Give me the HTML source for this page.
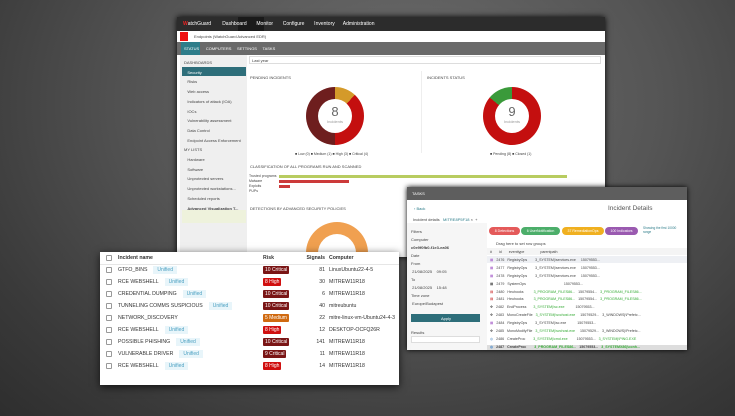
<!DOCTYPE html>
<html><head><meta charset="utf-8"><style>
*{margin:0;padding:0;box-sizing:border-box}
body{width:735px;height:416px;overflow:hidden;position:relative;font-family:"Liberation Sans",sans-serif;background:radial-gradient(ellipse at 55% 25%,#6e6e6e,#555 45%,#3a3a3a 80%,#2e2e2e);}
.a{position:absolute}
.t{font-size:4px;color:#444;white-space:nowrap}
.tab td{font-size:5.2px;color:#333;white-space:nowrap;height:12px}
.badge{color:#fff;font-size:5px;padding:1px 2px;border-radius:1px}
.u{font-size:5px;color:#4a9fc0;background:#e8f5fa;padding:1px 4px;margin-left:6px}
.cb{display:inline-block;width:6px;height:6px;border:1px solid #999;border-radius:1px;vertical-align:middle}
.pill{position:absolute;top:227px;height:8px;border-radius:4px;color:#fff;font-size:3.5px;text-align:center;line-height:8px;white-space:nowrap}
</style></head><body>
<!-- main window -->
<div class="a" style="left:177px;top:17px;width:428px;height:240px;background:#fff;box-shadow:0 0 6px #000"></div>
<div class="a" style="left:177px;top:17px;width:428px;height:14px;background:#2c2c2c"></div>
<div class="a" style="left:238px;top:17px;width:26px;height:14px;background:#1a1a1a"></div>
<div class="a t" style="left:183px;top:21px;color:#fff;font-size:5px"><b style="color:#e22">W</b>atchGuard &nbsp;&nbsp;&nbsp;&nbsp;&nbsp;&nbsp; Dashboard &nbsp;&nbsp;&nbsp;&nbsp;&nbsp; Monitor &nbsp;&nbsp;&nbsp;&nbsp;&nbsp; Configure &nbsp;&nbsp;&nbsp;&nbsp;&nbsp; Inventory &nbsp;&nbsp;&nbsp;&nbsp; Administration</div>
<div class="a" style="left:180px;top:32px;width:8px;height:9px;background:#e11"></div>
<div class="a t" style="left:194px;top:34px">Endpoints (WatchGuard Advanced EDR)</div>
<div class="a" style="left:177px;top:42px;width:428px;height:13px;background:#6a6a6a"></div>
<div class="a" style="left:181px;top:42px;width:19px;height:13px;background:#2e7d8a"></div>
<div class="a t" style="left:184px;top:46px;color:#fff">STATUS &nbsp;&nbsp;&nbsp;&nbsp; COMPUTERS &nbsp;&nbsp;&nbsp; SETTINGS &nbsp;&nbsp;&nbsp; TASKS</div>
<div class="a" style="left:180px;top:55px;width:67px;height:200px;background:#efefef"></div>
<div class="a" style="left:182px;top:67px;width:64px;height:9px;background:#2e6e7a"></div>
<div class="a" style="left:182px;top:210px;width:64px;height:13px;background:#eef2dc"></div>
<div class="a t" style="left:184px;top:58px;line-height:9.7px">DASHBOARDS<br><span style="color:#fff">&nbsp;&nbsp;&nbsp;Security</span><br>&nbsp;&nbsp;&nbsp;Risks<br>&nbsp;&nbsp;&nbsp;Web access<br>&nbsp;&nbsp;&nbsp;Indicators of attack (IOA)<br>&nbsp;&nbsp;&nbsp;IOCs<br>&nbsp;&nbsp;&nbsp;Vulnerability assessment<br>&nbsp;&nbsp;&nbsp;Data Control<br>&nbsp;&nbsp;&nbsp;Endpoint Access Enforcement<br>MY LISTS<br>&nbsp;&nbsp;&nbsp;Hardware<br>&nbsp;&nbsp;&nbsp;Software<br>&nbsp;&nbsp;&nbsp;Unprotected servers<br>&nbsp;&nbsp;&nbsp;Unprotected workstations...<br>&nbsp;&nbsp;&nbsp;Scheduled reports<br><b>&nbsp;&nbsp;&nbsp;Advanced Visualization T...</b></div>
<div class="a" style="left:249px;top:56px;width:352px;height:8px;border:1px solid #ddd"></div>
<div class="a t" style="left:252px;top:58px">Last year</div>
<div class="a" style="left:248px;top:71px;width:174px;height:82px;border-right:1px solid #eee"></div>
<div class="a t" style="left:250px;top:75px">PENDING INCIDENTS</div>
<div class="a t" style="left:427px;top:75px">INCIDENTS STATUS</div>
<div class="a" style="left:306px;top:87px;width:58px;height:58px;border-radius:50%;background:conic-gradient(#d49a2a 0 12%,#c40f0f 12% 50%,#6e1e1e 50% 100%)"></div>
<div class="a" style="left:318px;top:99px;width:34px;height:34px;border-radius:50%;background:#fff;text-align:center;font-size:13px;color:#666;padding-top:5px">8<div style="font-size:4px;color:#999">Incidents</div></div>
<div class="a" style="left:483px;top:87px;width:58px;height:58px;border-radius:50%;background:conic-gradient(#c40f0f 0 86%,#3a9a3a 86% 100%)"></div>
<div class="a" style="left:495px;top:99px;width:34px;height:34px;border-radius:50%;background:#fff;text-align:center;font-size:13px;color:#666;padding-top:5px">9<div style="font-size:4px;color:#999">Incidents</div></div>
<div class="a t" style="left:295px;top:152px;font-size:3.5px">■ Low (0) ■ Medium (1) ■ High (3) ■ Critical (4)</div>
<div class="a t" style="left:490px;top:152px;font-size:3.5px">■ Pending (8) ■ Closed (1)</div>
<div class="a t" style="left:250px;top:164px">CLASSIFICATION OF ALL PROGRAMS RUN AND SCANNED</div>
<div class="a" style="left:279px;top:175px;width:288px;height:3px;background:#b8cc60"></div>
<div class="a" style="left:279px;top:180px;width:70px;height:3px;background:#cc3a3a"></div>
<div class="a" style="left:279px;top:185px;width:11px;height:3px;background:#cc3a3a"></div>
<div class="a t" style="left:249px;top:174px;font-size:3.5px;line-height:5px">Trusted programs<br>Malware<br>Exploits<br>PUPs</div>
<div class="a t" style="left:250px;top:206px">DETECTIONS BY ADVANCED SECURITY POLICIES</div>
<div class="a" style="left:306px;top:222px;width:62px;height:62px;border-radius:50%;background:#f0a050"></div>
<div class="a" style="left:318px;top:234px;width:38px;height:38px;border-radius:50%;background:#fff"></div>
<!-- tasks window -->
<div class="a" style="left:407px;top:187px;width:280px;height:163px;background:#fff;box-shadow:0 0 5px #000"></div>
<div class="a" style="left:407px;top:187px;width:280px;height:13px;background:#5e5e5e"></div>
<div class="a t" style="left:412px;top:191px;color:#fff">TASKS</div>
<div class="a t" style="left:414px;top:206px;color:#2e7d8a">‹ Back</div>
<div class="a t" style="left:608px;top:205px;font-size:6.5px;color:#555">Incident Details</div>
<div class="a t" style="left:413px;top:217px">Incident details &nbsp; <span style="color:#2e7d8a">MITRE8P5F18</span> × &nbsp;+</div>
<div class="a" style="left:407px;top:223px;width:80px;height:127px;background:#f6f6f6"></div>
<div class="a t" style="left:411px;top:228px;line-height:8px">Filters<br>Computer<br><b>c0e9f0fb0-f1e3-ea06</b><br>Date<br>From<br>&nbsp;21/08/2025 &nbsp;&nbsp; 09:05<br>To<br>&nbsp;21/08/2025 &nbsp;&nbsp; 15:48<br>Time zone<br>&nbsp;Europe/Budapest</div>
<div class="a" style="left:411px;top:314px;width:69px;height:8px;background:#2e6e7a"></div>
<div class="a t" style="left:441px;top:316px;color:#fff">Apply</div>
<div class="a t" style="left:411px;top:330px">Results</div>
<div class="a" style="left:411px;top:336px;width:69px;height:7px;background:#fff;border:1px solid #ddd"></div>
<div class="pill" style="left:489px;width:31px;background:#e45a5a">8 Detections</div>
<div class="pill" style="left:521px;width:39px;background:#4cae6a">6 UserNotification</div>
<div class="pill" style="left:562px;width:42px;background:#f0b020">37 RemediationOps</div>
<div class="pill" style="left:605px;width:33px;background:#9a5ab0">100 Indicators</div>
<div class="a t" style="left:643px;top:226px;font-size:3.2px;color:#2e7d8a;line-height:4px">Showing the first 10000<br>range</div>
<div class="a t" style="left:496px;top:241px">Drag here to set row groups</div>
<div class="a" style="left:487px;top:248px;width:200px;height:7px;background:#f4f4f4"></div>
<div class="a" style="left:487px;top:256px;width:200px;height:7px;background:#eef0f4"></div>
<div class="a" style="left:487px;top:345px;width:200px;height:5px;background:#ddd"></div>
<div class="a t" style="left:490px;top:249px;font-size:3.6px;line-height:7.9px">#&nbsp;&nbsp;&nbsp;&nbsp;&nbsp;&nbsp; id&nbsp;&nbsp;&nbsp;&nbsp;&nbsp;&nbsp; eventtype&nbsp;&nbsp;&nbsp;&nbsp;&nbsp;&nbsp;&nbsp;&nbsp;&nbsp;&nbsp;&nbsp;&nbsp;&nbsp;&nbsp;&nbsp; parentpath<br>
<span style="color:#a6c">▦</span> &nbsp; 2476 &nbsp; RegistryOps &nbsp;&nbsp;&nbsp;&nbsp;&nbsp;&nbsp; 3_SYSTEM|\services.exe &nbsp;&nbsp;&nbsp; 15079553...<br>
<span style="color:#a6c">▦</span> &nbsp; 2477 &nbsp; RegistryOps &nbsp;&nbsp;&nbsp;&nbsp;&nbsp;&nbsp; 3_SYSTEM|\services.exe &nbsp;&nbsp;&nbsp; 15079553...<br>
<span style="color:#a6c">▦</span> &nbsp; 2478 &nbsp; RegistryOps &nbsp;&nbsp;&nbsp;&nbsp;&nbsp;&nbsp; 3_SYSTEM|\services.exe &nbsp;&nbsp;&nbsp; 15079553...<br>
▦ &nbsp; 2479 &nbsp; SystemOps &nbsp;&nbsp;&nbsp;&nbsp;&nbsp;&nbsp;&nbsp;&nbsp;&nbsp;&nbsp;&nbsp;&nbsp;&nbsp;&nbsp;&nbsp;&nbsp;&nbsp;&nbsp;&nbsp;&nbsp;&nbsp;&nbsp;&nbsp;&nbsp;&nbsp;&nbsp;&nbsp;&nbsp;&nbsp;&nbsp;&nbsp;&nbsp;&nbsp;&nbsp;&nbsp;&nbsp; 15079553...<br>
<span style="color:#c33">▤</span> &nbsp; 2480 &nbsp; Heuhooks &nbsp;&nbsp;&nbsp;&nbsp;&nbsp;&nbsp;&nbsp;&nbsp; <span style="color:#3a3">3_PROGRAM_FILES86...</span> &nbsp; 15079554... &nbsp; <span style="color:#3a3">3_PROGRAM_FILES86...</span><br>
<span style="color:#c33">▤</span> &nbsp; 2481 &nbsp; Heuhooks &nbsp;&nbsp;&nbsp;&nbsp;&nbsp;&nbsp;&nbsp;&nbsp; <span style="color:#3a3">3_PROGRAM_FILES86...</span> &nbsp; 15079554... &nbsp; <span style="color:#3a3">3_PROGRAM_FILES86...</span><br>
✥ &nbsp; 2482 &nbsp; EndProcess &nbsp;&nbsp;&nbsp;&nbsp;&nbsp; <span style="color:#3a3">3_SYSTEM|\sc.exe</span> &nbsp;&nbsp;&nbsp;&nbsp;&nbsp;&nbsp;&nbsp;&nbsp;&nbsp; 15079553...<br>
✥ &nbsp; 2483 &nbsp; MonoCreateFile &nbsp; <span style="color:#3a3">3_SYSTEM|\svchost.exe</span> &nbsp;&nbsp;&nbsp; 15079529... &nbsp; 3_WINDOWS|\Prefetc...<br>
<span style="color:#a6c">▦</span> &nbsp; 2484 &nbsp; RegistryOps &nbsp;&nbsp;&nbsp;&nbsp;&nbsp;&nbsp; 3_SYSTEM|\sc.exe &nbsp;&nbsp;&nbsp;&nbsp;&nbsp;&nbsp;&nbsp;&nbsp;&nbsp; 15079553...<br>
✥ &nbsp; 2485 &nbsp; MonoModifyFile &nbsp; <span style="color:#3a3">3_SYSTEM|\svchost.exe</span> &nbsp;&nbsp;&nbsp; 15079529... &nbsp; 3_WINDOWS|\Prefetc...<br>
<span style="color:#69c">◍</span> &nbsp; 2486 &nbsp; CreateProc &nbsp;&nbsp;&nbsp;&nbsp;&nbsp;&nbsp; <span style="color:#3a3">3_SYSTEM|\cmd.exe</span> &nbsp;&nbsp;&nbsp;&nbsp;&nbsp;&nbsp;&nbsp; 15079553... &nbsp; <span style="color:#3a3">3_SYSTEM|\PING.EXE</span><br>
<b><span style="color:#69c">◍</span> &nbsp; 2487 &nbsp; CreateProc &nbsp;&nbsp;&nbsp;&nbsp;&nbsp;&nbsp; <span style="color:#3a3">3_PROGRAM_FILES86...</span> &nbsp; 15079553... &nbsp; <span style="color:#3a3">3_SYSTEMX86|\conh...</span></b></div>
<!-- incident table card -->
<div class="a" style="left:100px;top:252px;width:299px;height:133px;background:#fff;box-shadow:0 2px 8px rgba(0,0,0,.7)"></div>
<div class="a" style="left:100px;top:264px;width:299px;height:1px;background:#e6e6e6"></div>
<table class="a tab" style="left:106px;top:252px;border-collapse:collapse">
<tr><td style="width:12px"><span class="cb"></span></td><td style="width:145px"><b>Incident name</b></td><td style="width:38px"><b>Risk</b></td><td style="width:28px;text-align:right;padding-right:4px"><b>Signals</b></td><td><b>Computer</b></td></tr>
<tr><td><span class="cb"></span></td><td>GTFO_BINS<span class="u">Unified</span></td><td><span class="badge" style="background:#7a1515">10 Critical</span></td><td style="text-align:right;padding-right:4px">81</td><td>LinuxUbuntu22-4-5</td></tr>
<tr><td><span class="cb"></span></td><td>RCE WEBSHELL<span class="u">Unified</span></td><td><span class="badge" style="background:#d01010">8 High</span></td><td style="text-align:right;padding-right:4px">30</td><td>MITREW11R18</td></tr>
<tr><td><span class="cb"></span></td><td>CREDENTIAL DUMPING<span class="u">Unified</span></td><td><span class="badge" style="background:#7a1515">10 Critical</span></td><td style="text-align:right;padding-right:4px">6</td><td>MITREW11R18</td></tr>
<tr><td><span class="cb"></span></td><td>TUNNELING COMMS SUSPICIOUS<span class="u">Unified</span></td><td><span class="badge" style="background:#7a1515">10 Critical</span></td><td style="text-align:right;padding-right:4px">40</td><td>mitreubuntu</td></tr>
<tr><td><span class="cb"></span></td><td>NETWORK_DISCOVERY</td><td><span class="badge" style="background:#d06a10">5 Medium</span></td><td style="text-align:right;padding-right:4px">22</td><td>mitre-linux-vm-Ubuntu24-4-3</td></tr>
<tr><td><span class="cb"></span></td><td>RCE WEBSHELL<span class="u">Unified</span></td><td><span class="badge" style="background:#d01010">8 High</span></td><td style="text-align:right;padding-right:4px">12</td><td>DESKTOP-OCFQ26R</td></tr>
<tr><td><span class="cb"></span></td><td>POSSIBLE PHISHING<span class="u">Unified</span></td><td><span class="badge" style="background:#7a1515">10 Critical</span></td><td style="text-align:right;padding-right:4px">141</td><td>MITREW11R18</td></tr>
<tr><td><span class="cb"></span></td><td>VULNERABLE DRIVER<span class="u">Unified</span></td><td><span class="badge" style="background:#7a1515">9 Critical</span></td><td style="text-align:right;padding-right:4px">11</td><td>MITREW11R18</td></tr>
<tr><td><span class="cb"></span></td><td>RCE WEBSHELL<span class="u">Unified</span></td><td><span class="badge" style="background:#d01010">8 High</span></td><td style="text-align:right;padding-right:4px">14</td><td>MITREW11R18</td></tr>
</table>
</body></html>
